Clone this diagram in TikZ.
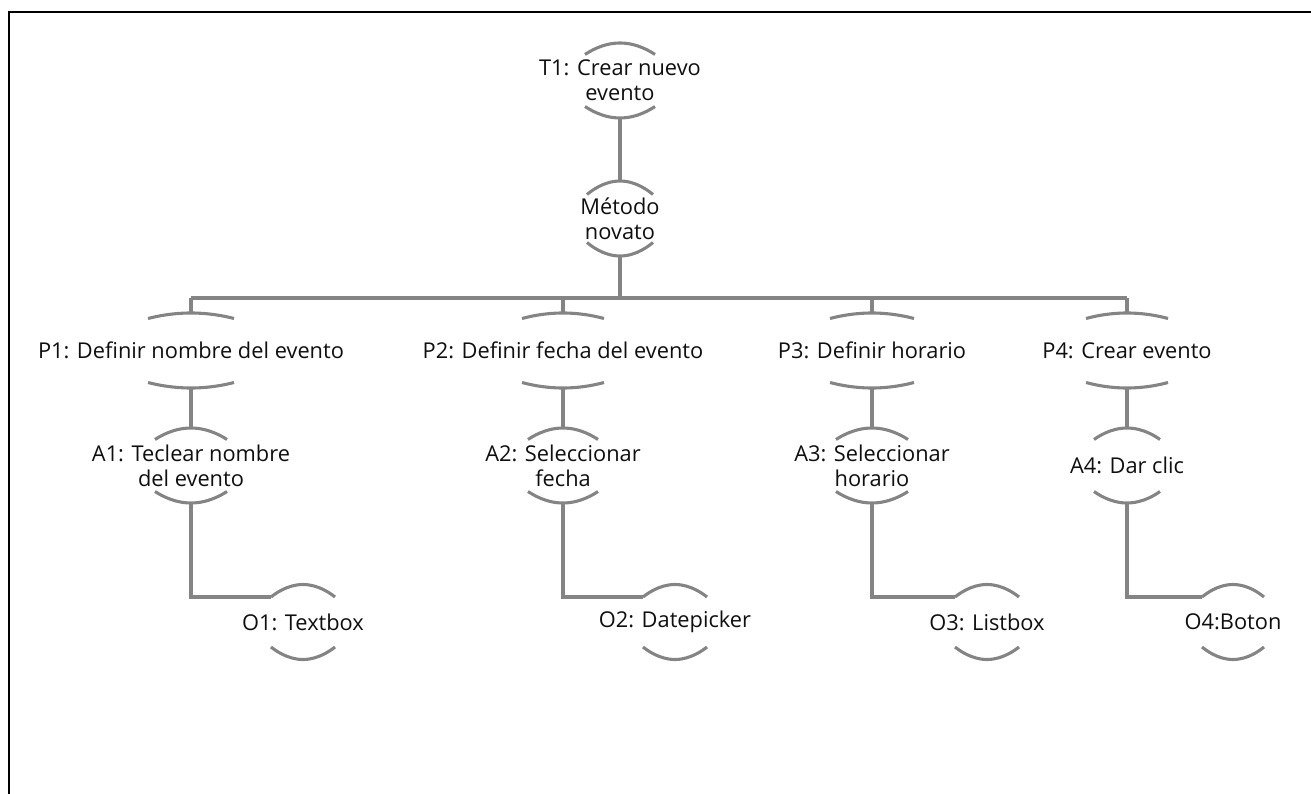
\documentclass[tikz,border=0pt]{standalone}
\usepackage{fontspec}
\setmainfont{Open Sans}
\definecolor{linkgray}{RGB}{132,132,132}
\definecolor{inkblack}{RGB}{15,15,15}
% Task-tree node: text with a cap arc above and a cup arc below.
% #1 name, #2 x, #3 y, #4 half chord of the arcs, #5 offset of the arc ends, #6 text
\newcommand\opnode[6]{%
  \node[tasktext] (#1) at (#2,#3) {#6};
  \draw[arcline] (#2-#4,#3-#5) parabola bend (#2,#3-37.5) (#2+#4,#3-#5);
  \draw[arcline] (#2-#4,#3+#5) parabola bend (#2,#3+37.5) (#2+#4,#3+#5);
  \coordinate (#1-top) at (#2,#3-37.5);
  \coordinate (#1-bot) at (#2,#3+37.5);
  \coordinate (#1-in) at (#2-#4,#3-#5);
}
\begin{document}
\begin{tikzpicture}[x=1pt,y=-1pt,
  tasktext/.style={align=center,inner sep=0pt,text=inkblack,
    font=\fontsize{21.8}{25}\selectfont},
  arcline/.style={draw=linkgray,line width=3.1pt},
  link/.style={draw=linkgray,line width=3.1pt},
  frame/.style={draw=black,line width=2pt}]
\useasboundingbox (0,0) rectangle (1311,794);
\draw[frame] (9,794) -- (9,12) -- (1311,12);

\opnode{T1}{620}{80.5}{35}{26}{T1: Crear nuevo\\evento}
\opnode{M}{620}{218.5}{33}{24}{Método\\novato}

\opnode{P1}{191}{350.5}{43}{32}{P1: Definir nombre del evento}
\opnode{P2}{563}{350.5}{41}{32}{P2: Definir fecha del evento}
\opnode{P3}{872}{350.5}{42}{32}{P3: Definir horario}
\opnode{P4}{1127}{350.5}{41}{32}{P4: Crear evento}

\opnode{A1}{191}{465.5}{36}{26}{A1: Teclear nombre\\del evento}
\opnode{A2}{563}{465.5}{35}{26}{A2: Seleccionar\\fecha}
\opnode{A3}{872}{465.5}{36}{26}{A3: Seleccionar\\horario}
\opnode{A4}{1127}{465.5}{33}{26}{A4: Dar clic}

\opnode{O1}{303}{622}{32}{25}{O1: Textbox}
\opnode{O2}{675}{622}{32}{25}{O2: Datepicker}
\opnode{O3}{987}{622}{32}{25}{O3: Listbox}
\opnode{O4}{1233}{622}{31}{25}{O4:Boton}

\coordinate (bus) at (620,298);
\draw[link] (T1-bot) -- (M-top);
\draw[link] (M-bot) -- (bus);
\draw[link] (P1-top |- bus) -- (P4-top |- bus);
\foreach \i in {1,2,3,4}{
  \draw[link] (P\i-top |- bus) -- (P\i-top);
  \draw[link] (P\i-bot) -- (A\i-top);
  \draw[link] (A\i-bot) |- (O\i-in);
}
\end{tikzpicture}
\end{document}
